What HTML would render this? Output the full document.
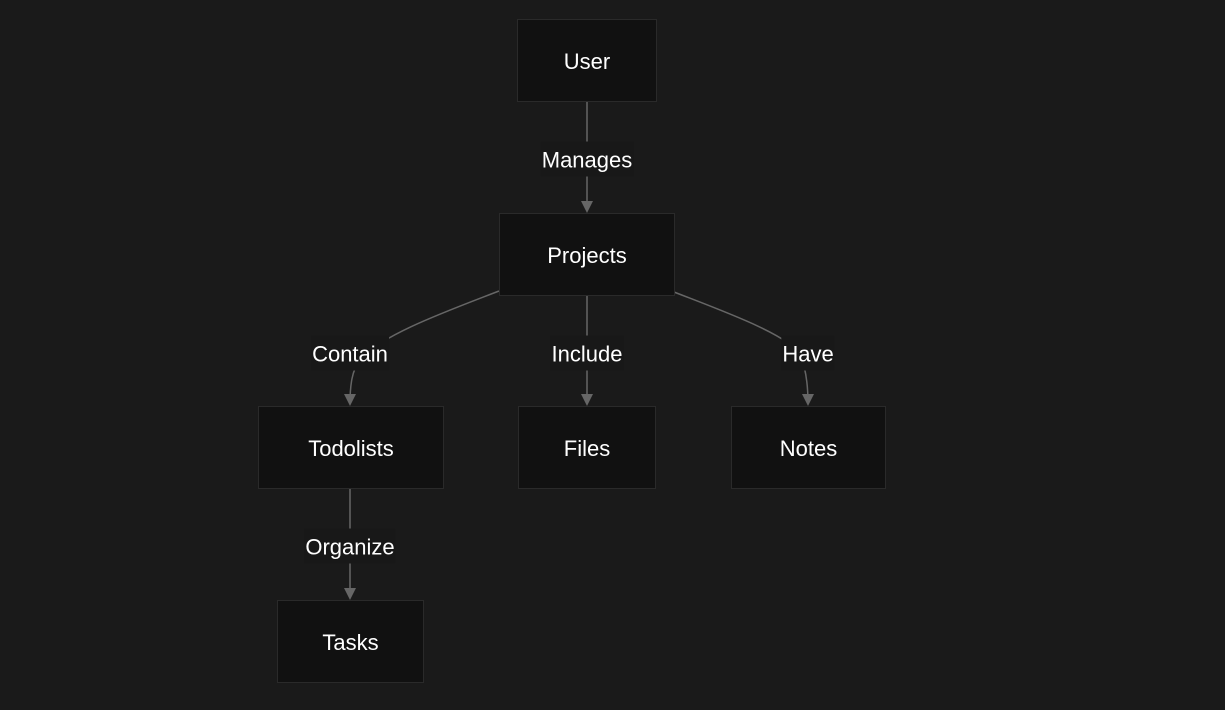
<!DOCTYPE html>
<html><head><style>
body{margin:0;background:#1a1a1a;width:1225px;height:710px;overflow:hidden;font-family:"Segoe UI","Liberation Sans",sans-serif;}
svg{position:absolute;left:0;top:0}
.n{position:absolute;background:#111;border:1px solid #2a2a2a;box-sizing:border-box;color:#fff;font-size:22px;display:flex;align-items:center;justify-content:center;padding-top:3px}
.l{position:absolute;background:#181818;color:#fff;font-size:22px;transform:translate(-50%,-50%);padding:3px 1px 0;line-height:32px;white-space:nowrap}
</style></head><body>
<svg width="1225" height="710">
<defs><marker id="a" markerWidth="12" markerHeight="12" refX="10" refY="6" orient="auto" markerUnits="userSpaceOnUse"><path d="M0,0L12,6L0,12z" fill="#666"/></marker></defs>
<g stroke="#666" stroke-width="1.5" fill="none">
<path d="M587,101 V211" marker-end="url(#a)"/>
<path d="M499,291 C450,310 380,335 360,360 C352,370 350,385 350,404" marker-end="url(#a)"/>
<path d="M587,295 V404" marker-end="url(#a)"/>
<path d="M674,292 C720,310 790,335 800,355 C806,368 808,385 808,404" marker-end="url(#a)"/>
<path d="M350,488 V598" marker-end="url(#a)"/>
</g></svg>
<div class="n" style="left:517px;top:19px;width:140px;height:83px">User</div>
<div class="n" style="left:499px;top:213px;width:176px;height:83px">Projects</div>
<div class="n" style="left:258px;top:406px;width:186px;height:83px">Todolists</div>
<div class="n" style="left:518px;top:406px;width:138px;height:83px">Files</div>
<div class="n" style="left:731px;top:406px;width:155px;height:83px">Notes</div>
<div class="n" style="left:277px;top:600px;width:147px;height:83px">Tasks</div>
<div class="l" style="left:587px;top:159px">Manages</div>
<div class="l" style="left:350px;top:353px">Contain</div>
<div class="l" style="left:587px;top:353px">Include</div>
<div class="l" style="left:808px;top:353px">Have</div>
<div class="l" style="left:350px;top:546px">Organize</div>
</body></html>
